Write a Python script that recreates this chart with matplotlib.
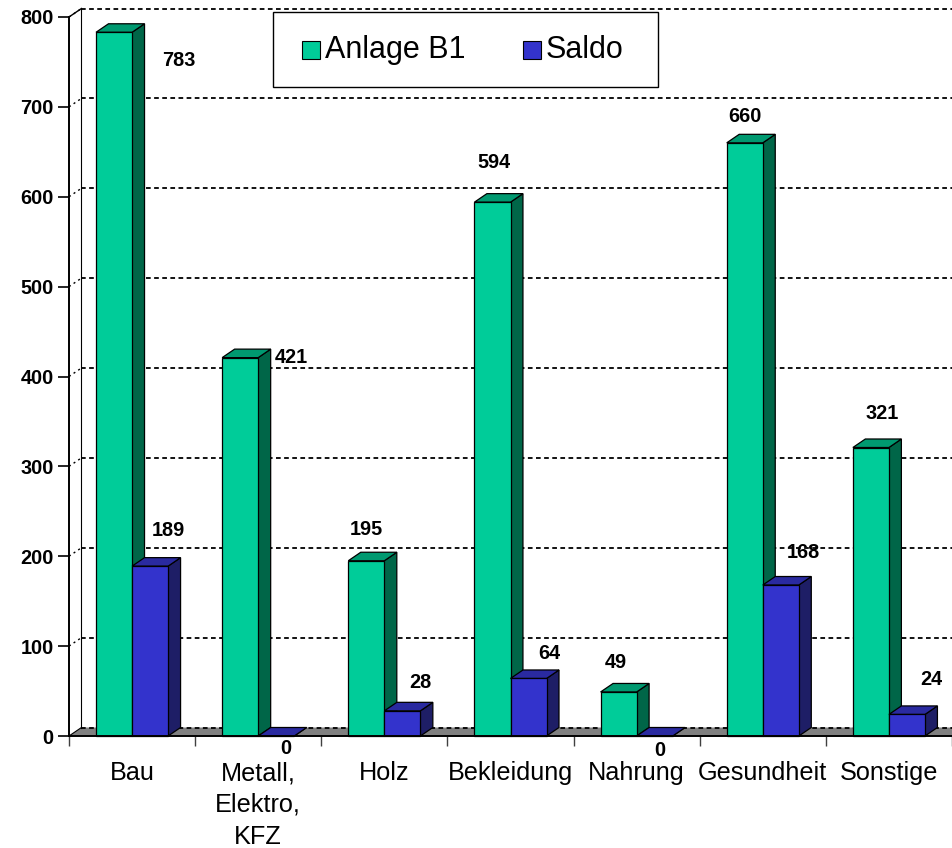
import matplotlib
matplotlib.use("Agg")
import matplotlib.pyplot as plt
from matplotlib.patches import Polygon, Rectangle
import numpy as np

plt.rcParams['font.family'] = ['Liberation Sans', 'DejaVu Sans']

# ---- data ----
categories = ["Bau", "Metall,\nElektro,\nKFZ", "Holz", "Bekleidung", "Nahrung", "Gesundheit", "Sonstige"]
anlage_b1 = [783, 421, 195, 594, 49, 660, 321]
saldo = [189, 0, 28, 64, 0, 168, 24]
series_names = ["Anlage B1", "Saldo"]
y_ticks = [0, 100, 200, 300, 400, 500, 600, 700, 800]

# label offsets (pixels) relative to bar front-top centre
green_label_off = [(65, -28), (51, 0), (0, 31), (1, 40), (-3, 29), (0, 26), (11, 34)]
blue_label_off = [(18, 36), (10, -12), (18, 28), (21, 25), (5, -14), (23, 33), (24, 35)]

# ---- style ----
colors = {
    "green": ("#00CC99", "#009970", "#006648"),   # front, top, side
    "blue": ("#3333CC", "#2A2AA0", "#1E1E66"),
}

W, H = 952, 848
fig = plt.figure(figsize=(W / 100, H / 100), dpi=100)
fig.patch.set_facecolor("white")

cat_px = 126.6
x_left_px, y0_px, y800_px = 69, 736, 17
ax = fig.add_axes([x_left_px / W, (H - y0_px) / H, (W - x_left_px) / W, (y0_px - y800_px) / H])
xmax = (W - x_left_px) / cat_px
ax.set_xlim(0, xmax)
ax.set_ylim(0, 800)
ax.set_facecolor("none")

px_per_val = (y0_px - y800_px) / 800.0
DX = 12.5 / cat_px
DY = 8.5 / px_per_val

# floor
floor = Polygon([(0, 0), (DX, DY), (xmax + 1, DY), (xmax + 1, 0)], closed=True,
                facecolor="#808080", edgecolor="none", zorder=1, clip_on=False)
ax.add_patch(floor)

# back wall gridlines
dash = (0, (2.6, 1.9))
for v in y_ticks:
    ax.plot([DX, xmax + 1], [v + DY, v + DY], color="black", lw=1.3, linestyle=dash,
            zorder=2, clip_on=False)
    if v > 0:
        ax.plot([0, DX], [v, v + DY], color="black", lw=1.0, linestyle=(0, (1.5, 2.5)),
                zorder=2, clip_on=False)
# wall edges
ax.plot([DX, DX], [DY, 800 + DY], color="black", lw=0.8, zorder=2, clip_on=False)
ax.plot([0, DX], [800, 800 + DY], color="black", lw=1.0, zorder=2, clip_on=False)
ax.plot([0, DX], [0, DY], color="black", lw=0.8, zorder=2, clip_on=False)

# bars
bw = 1 / 3.5
offs = [1.5 * bw / 2, 1.5 * bw / 2 + bw]
z = 3
for i in range(len(categories)):
    for s, (vals, key) in enumerate([(anlage_b1, "green"), (saldo, "blue")]):
        v = vals[i]
        x0 = i + offs[s]
        x1 = x0 + bw
        front, top, side = colors[key]
        ax.bar([x0], [v], width=bw, align="edge", color=front, edgecolor="black",
               linewidth=0.9, zorder=z + 0.2, clip_on=False)
        ax.add_patch(Polygon([(x1, 0), (x1 + DX, DY), (x1 + DX, v + DY), (x1, v)], closed=True,
                             facecolor=side, edgecolor="black", lw=0.9, zorder=z, clip_on=False))
        ax.add_patch(Polygon([(x0, v), (x0 + DX, v + DY), (x1 + DX, v + DY), (x1, v)], closed=True,
                             facecolor=top, edgecolor="black", lw=0.9, zorder=z + 0.1, clip_on=False))
        z += 1

# value labels
for i in range(len(categories)):
    for s, (vals, offl) in enumerate([(anlage_b1, green_label_off), (saldo, blue_label_off)]):
        v = vals[i]
        xc = i + offs[s] + bw / 2
        ax.annotate(str(v), (xc, v), xytext=offl[i], textcoords="offset pixels",
                    ha="center", va="center", fontsize=14.3, fontweight="bold",
                    color="black", zorder=50, annotation_clip=False)

# axes
for sp in ["top", "right"]:
    ax.spines[sp].set_visible(False)
ax.spines["left"].set_linewidth(1.4)
ax.spines["bottom"].set_linewidth(1.4)
ax.spines["left"].set_zorder(40)
ax.spines["bottom"].set_zorder(40)
ax.set_yticks(y_ticks)
ax.set_yticklabels([str(t) for t in y_ticks], fontsize=14.3, fontweight="bold")
ax.tick_params(axis="y", direction="out", length=8, width=1.2, pad=3)

ax.set_xticks(np.arange(len(categories)) + 0.5)
ax.set_xticklabels(categories, fontsize=18.2, linespacing=1.42)
ax.set_xticks(np.arange(0, len(categories) + 1), minor=True)
ax.tick_params(axis="x", which="major", length=0, pad=18)
ax.tick_params(axis="x", which="minor", direction="out", length=7.5, width=1.0, color="#404040")

# legend (drawn in figure pixel coordinates)
def fx(px):
    return px / W

def fy(py):
    return 1 - py / H

fig.patches.append(Rectangle((fx(273), fy(87)), fx(658) - fx(273), fy(12) - fy(87),
                             transform=fig.transFigure, facecolor="white", edgecolor="black",
                             lw=1.0, zorder=60))
legend_items = [(302, 325, colors["green"][0]), (523, 546, colors["blue"][0])]
for (sqx, tx, col), name in zip(legend_items, series_names):
    fig.patches.append(Rectangle((fx(sqx), fy(59)), fx(18), 18 / H, transform=fig.transFigure,
                                 facecolor=col, edgecolor="black", lw=0.8, zorder=61))
    fig.text(fx(tx), fy(50), name, fontsize=22, ha="left", va="center", zorder=62)

fig.savefig("out.png", dpi=100, facecolor="white")
